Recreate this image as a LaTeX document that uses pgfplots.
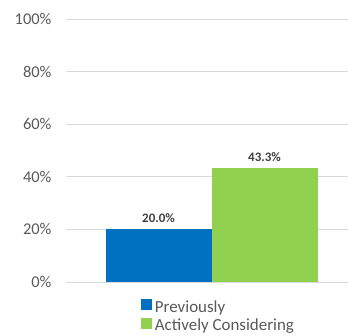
\documentclass[border=0pt]{standalone}
\usepackage{pgfplots}
\pgfplotsset{compat=1.18}
\usepackage{fontspec}
\setmainfont{Carlito}
\definecolor{cblue}{HTML}{0070C0}
\definecolor{cgreen}{HTML}{92D050}
\definecolor{tickgray}{HTML}{595959}
\definecolor{gridgray}{HTML}{D9D9D9}
\definecolor{lblgray}{HTML}{404040}
\begin{document}
\begin{tikzpicture}
\path[use as bounding box] (-66bp,-54bp) rectangle (282bp,282bp);
\begin{axis}[
  at={(0,0)}, anchor=south west,
  scale only axis, width=282bp, height=263bp,
  ybar=0pt, bar width=106bp,
  xmin=-1, xmax=0.938,
  ymin=0, ymax=100,
  ytick={0,20,40,60,80,100},
  yticklabel={\pgfmathprintnumber{\tick}\%},
  /pgf/number format/assume math mode=true,
  yticklabel style={font=\fontsize{16.5}{16.5}\selectfont, text=tickgray, xshift=-11bp},
  xtick=\empty,
  axis line style={draw=none},
  major tick length=0pt,
  ymajorgrids, grid style={gridgray, line width=0.8pt},
  nodes near coords={\pgfmathprintnumber[fixed,fixed zerofill,precision=1]{\pgfplotspointmeta}\%},
  nodes near coords style={font=\bfseries\fontsize{13}{13}\selectfont, text=lblgray, yshift=3bp},
  legend style={draw=none, at={(0.265,-0.065)}, anchor=north west, font=\fontsize{17}{17}\selectfont, text=tickgray, row sep=0pt, inner sep=0pt,
    nodes={inner xsep=3bp, inner ysep=1.5bp, text height=11bp, text depth=3.5bp}},
  legend cell align=left,
  legend image code/.code={\fill[#1] (0bp,-1.5bp) rectangle (11bp,9.5bp);},
]
\addplot[fill=cblue, draw=none] coordinates {(0,20.0)};
\addplot[fill=cgreen, draw=none] coordinates {(0,43.3)};
\legend{Previously, Actively Considering}
\end{axis}
\end{tikzpicture}
\end{document}
